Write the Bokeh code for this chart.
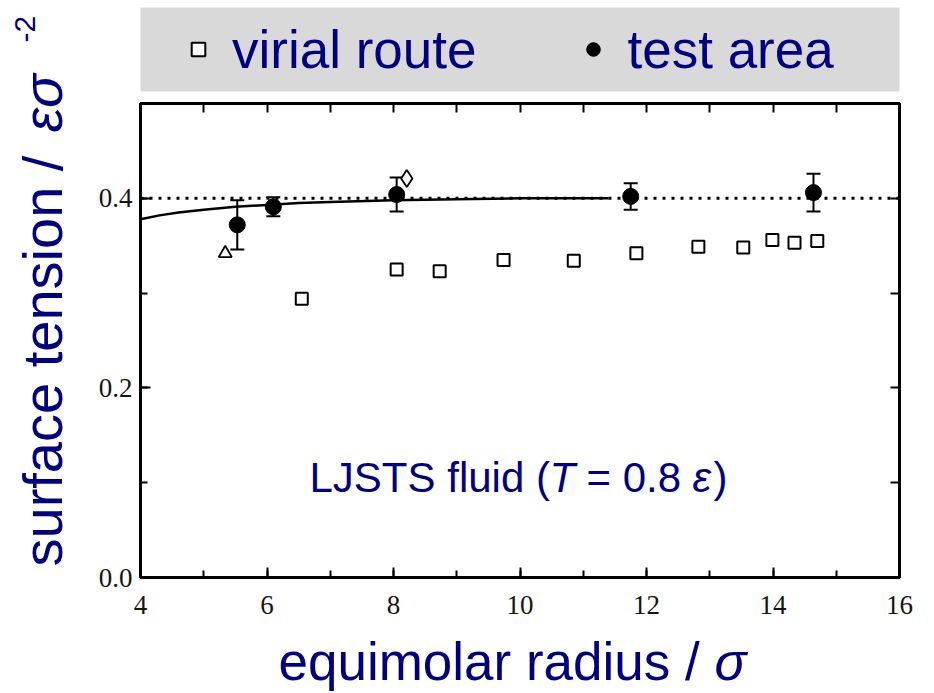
import math

from bokeh.core.properties import value
from bokeh.embed import file_html
from bokeh.layouts import column, row
from bokeh.models import (ColumnDataSource, FixedTicker, Label, Legend, LegendItem,
                          LinearAxis, PrintfTickFormatter, Range1d, SingleIntervalTicker,
                          Span, TeeHead, Whisker)
from bokeh.plotting import figure
from bokeh.resources import INLINE

# ---- data -----------------------------------------------------------------
# surface tension from the virial route (open squares)
virial_radius = [6.55, 8.05, 8.73, 9.74, 10.85, 11.84, 12.82, 13.53, 13.99, 14.34, 14.70]
virial_gamma = [0.294, 0.325, 0.323, 0.335, 0.334, 0.342, 0.349, 0.348, 0.356, 0.353, 0.355]

# surface tension from the test-area method (filled circles, with error bars)
test_radius = [5.53, 6.10, 8.05, 11.75, 14.64]
test_gamma = [0.372, 0.391, 0.404, 0.402, 0.406]
test_error = [0.026, 0.010, 0.018, 0.014, 0.020]

# single literature points
triangle_radius = [5.34]
triangle_gamma = [0.342]
diamond_radius = [8.21]
diamond_gamma = [0.421]

# fitted curvature-dependence curve
curve_radius = [4.0, 4.3, 4.6, 5.0, 5.5, 6.0, 6.5, 7.0, 8.0, 9.0, 10.0, 11.4]
curve_gamma = [0.378, 0.382, 0.385, 0.388, 0.391, 0.393, 0.395, 0.396, 0.398, 0.399, 0.400, 0.400]

# planar interface value
planar_gamma = 0.4

series_labels = ["virial route", "test area"]
x_ticks_major = 2
y_ticks_major = 0.2

# ---- page geometry (pixels) -------------------------------------------------
W, H = 934, 693
LEFT_W = 80                      # column holding the rotated y title
HEAD_H = 100                     # legend bar strip
MAIN_H = 527                     # main plot canvas
FOOT_H = H - HEAD_H - MAIN_H     # x title strip
FL, FR, FT, FB = 140, 899, 103, 577   # frame edges on the page
BORDER_L, BORDER_R = FL - LEFT_W, W - FR
BAR_TOP, BAR_BOTTOM = 7, 91      # grey legend bar on the page

NAVY = "#000080"
INK = "#151515"
BAR_GREY = "#d9d9d9"
SANS = "Liberation Sans"
SERIF = "Liberation Serif"
RAISE = 0.37   # anchor correction for alphabetic baselines, in em


def strip(w, h, x_range, border_l=0, border_r=0, border_t=0, border_b=0):
    """A bare figure whose data coordinates are page pixels (y measured from its bottom)."""
    f = figure(width=w, height=h, x_range=x_range, y_range=Range1d(0, h),
               x_axis_type=None, y_axis_type=None, min_border=0,
               min_border_left=border_l, min_border_right=border_r,
               min_border_top=border_t, min_border_bottom=border_b,
               output_backend="svg", toolbar_location=None)
    f.outline_line_color = None
    f.background_fill_color = "white"
    f.border_fill_color = "white"
    return f


# ---- main plot --------------------------------------------------------------
main_w = W - LEFT_W
p = figure(width=main_w, height=MAIN_H,
           x_range=Range1d(4, 16), y_range=Range1d(0, 0.5),
           min_border_left=BORDER_L, min_border_right=BORDER_R,
           min_border_top=FT - HEAD_H, min_border_bottom=HEAD_H + MAIN_H - FB,
           output_backend="svg", toolbar_location=None)
p.background_fill_color = "white"
p.border_fill_color = "white"
p.outline_line_color = "black"
p.outline_line_width = 3
p.xgrid.visible = False
p.ygrid.visible = False

xa, ya = p.xaxis[0], p.yaxis[0]
xa.ticker = SingleIntervalTicker(interval=x_ticks_major, num_minor_ticks=2)
ya.ticker = SingleIntervalTicker(interval=y_ticks_major, num_minor_ticks=2)
ya.formatter = PrintfTickFormatter(format="%.1f")
for ax in (xa, ya):
    ax.axis_line_color = None
    ax.major_tick_in, ax.major_tick_out = 10, 0
    ax.minor_tick_in, ax.minor_tick_out = 7, 0
    ax.major_tick_line_width = 2
    ax.minor_tick_line_width = 2
    ax.major_label_text_font = SERIF
    ax.major_label_text_font_size = "27px"
    ax.major_label_text_color = INK
xa.major_label_standoff = 18
ya.major_label_standoff = 8

# tick marks on the top and right edges of the frame
top_ax = LinearAxis(ticker=FixedTicker(ticks=[], minor_ticks=list(range(4, 17))),
                    axis_line_color=None, minor_tick_in=9, minor_tick_out=0,
                    minor_tick_line_width=2, major_label_standoff=0)
right_ax = LinearAxis(ticker=FixedTicker(ticks=[], minor_ticks=[i / 10 for i in range(6)]),
                      axis_line_color=None, minor_tick_in=9, minor_tick_out=0,
                      minor_tick_line_width=2, major_label_standoff=0)
p.add_layout(top_ax, "above")
p.add_layout(right_ax, "right")

p.add_layout(Span(location=planar_gamma, dimension="width", line_color="black",
                  line_width=3, line_dash="3 6"))
p.line(curve_radius, curve_gamma, line_color="black", line_width=2.5)

src = ColumnDataSource(dict(
    r=test_radius, g=test_gamma,
    lo=[g - e for g, e in zip(test_gamma, test_error)],
    hi=[g + e for g, e in zip(test_gamma, test_error)]))
p.add_layout(Whisker(source=src, base="r", lower="lo", upper="hi",
                     line_color="black", line_width=2,
                     lower_head=TeeHead(size=14, line_width=2, line_color="black"),
                     upper_head=TeeHead(size=14, line_width=2, line_color="black")))

SQUARE = dict(marker="square", size=12, fill_color="white", line_color="black", line_width=2)
CIRCLE = dict(marker="circle", size=16, fill_color="black", line_color="black")

p.scatter(virial_radius, virial_gamma, **SQUARE)
p.scatter("r", "g", source=src, **CIRCLE)
p.scatter(triangle_radius, triangle_gamma, marker="triangle", size=13,
          fill_color="white", line_color="black", line_width=1.8)
p.scatter(diamond_radius, diamond_gamma, marker="diamond", size=17,
          fill_color="white", line_color="black", line_width=1.8)


def frame_label(text, px, py, size, style="normal"):
    p.add_layout(Label(x=px - FL, y=FB - py + RAISE * size, x_units="screen", y_units="screen",
                       text=text, text_font=SANS, text_font_size=f"{size}px",
                       text_font_style=style, text_color=NAVY,
                       text_baseline="alphabetic"))


frame_label("LJSTS fluid (", 309, 493, 42)
frame_label("T", 549, 493, 42, "italic")
frame_label("= 0.8", 586, 493, 42)
frame_label("ε", 692, 493, 42, "italic")
frame_label(")", 713, 493, 42)

# ---- legend bar: the strip's frame is the grey bar ----------------------------
head = strip(main_w, HEAD_H, Range1d(FL, FR), BORDER_L, BORDER_R,
             BAR_TOP, HEAD_H - BAR_BOTTOM)
head.background_fill_color = BAR_GREY
nan = float("nan")
key_sq = head.scatter(x=[nan], y=[nan], **SQUARE)
key_ci = head.scatter(x=[nan], y=[nan], **CIRCLE)
legend = Legend(items=[LegendItem(label=series_labels[0], renderers=[key_sq]),
                       LegendItem(label=series_labels[1], renderers=[key_ci])],
                orientation="horizontal", location=(24, 0), margin=0,
                padding=0, spacing=83, glyph_width=68, glyph_height=34,
                label_standoff=0, label_width=0, label_height=BAR_BOTTOM - BAR_TOP,
                background_fill_alpha=0, border_line_color=None,
                label_text_font=SANS, label_text_font_size="53px",
                label_text_color=NAVY)
head.add_layout(legend)

# ---- x title ---------------------------------------------------------------
foot = strip(main_w, FOOT_H, Range1d(FL, FR), BORDER_L, BORDER_R)
foot_top = HEAD_H + MAIN_H
x_title_base = FOOT_H - (681 - foot_top) + RAISE * 53
foot.text(x=[278, 714], y=[x_title_base] * 2,
          text=["equimolar radius /", "σ"], text_font=value(SANS),
          text_font_size="53px", text_font_style=["normal", "italic"],
          text_color=NAVY, text_baseline="alphabetic", text_align="left")

# ---- y title (reads upwards) -------------------------------------------------
side = strip(LEFT_W, H, Range1d(0, LEFT_W))
side.text(x=[63 - RAISE * 56, 63 - RAISE * 56, 36 - RAISE * 30],
          y=[H - 566, H - 132, H - 42],
          text=["surface tension /", "εσ", "-2"], text_font=value(SANS),
          text_font_size=["56px", "56px", "30px"],
          text_font_style=["normal", "italic", "normal"],
          angle=math.pi / 2, text_color=NAVY, text_baseline="alphabetic",
          text_align="left")

page = row(side, column(head, p, foot))
open("out.html", "w").write(file_html(page, INLINE))
